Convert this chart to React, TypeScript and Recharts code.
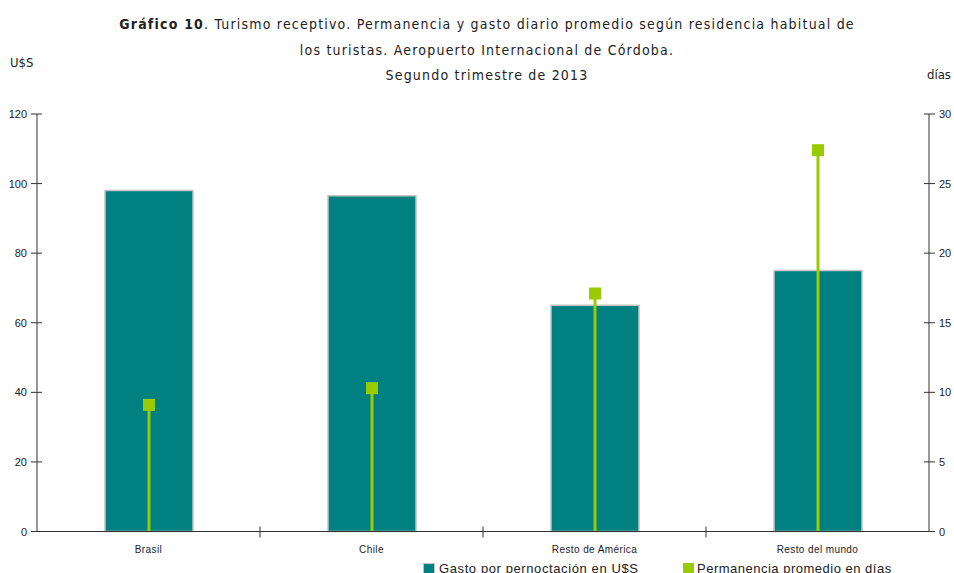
import React from 'react';
import { ComposedChart, Bar, XAxis, YAxis } from 'recharts';

const categories = ['Brasil', 'Chile', 'Resto de América', 'Resto del mundo'];
const gastoDiario = [98, 96.5, 65, 75];
const permanenciaDias = [9.1, 10.3, 17.1, 27.4];
const leftTicks = [0, 20, 40, 60, 80, 100, 120];
const rightTicks = [0, 5, 10, 15, 20, 25, 30];

const data = categories.map((name, i) => ({
  name,
  gasto: gastoDiario[i],
  dias: permanenciaDias[i],
}));

const W = 954;
const H = 573;
const PLOT_LEFT = 37;
const PLOT_RIGHT = 929;
const PLOT_TOP = 114;
const PLOT_BOTTOM = 531.5;
const HALF_BAND = (PLOT_RIGHT - PLOT_LEFT) / categories.length / 2;

const TEAL = '#008080';
const GREEN = '#99cc00';
const AXIS = '#333333';
const FONT = '"Liberation Sans", Arial, sans-serif';
const TITLE_FONT = '"DejaVu Sans Condensed", "DejaVu Sans", sans-serif';

const LeftTick = (props: any) => {
  const { y, payload } = props;
  return (
    <g>
      <line x1={PLOT_LEFT - 6} x2={PLOT_LEFT + 5} y1={y} y2={y} stroke={AXIS} strokeWidth={1} />
      <text x={PLOT_LEFT - 10} y={y} dy={4} textAnchor="end" fontSize={11} fill="#222" fontFamily={FONT}>
        {payload.value}
      </text>
    </g>
  );
};

const RightTick = (props: any) => {
  const { y, payload } = props;
  return (
    <g>
      <line x1={PLOT_RIGHT - 5} x2={PLOT_RIGHT + 6} y1={y} y2={y} stroke={AXIS} strokeWidth={1} />
      <text x={PLOT_RIGHT + 10} y={y} dy={4} textAnchor="start" fontSize={11} fill="#222" fontFamily={FONT}>
        {payload.value}
      </text>
    </g>
  );
};

const CatTick = (props: any) => {
  const { x, payload, index } = props;
  return (
    <g>
      {index < categories.length - 1 && (
        <line x1={x + HALF_BAND} x2={x + HALF_BAND} y1={PLOT_BOTTOM - 5} y2={PLOT_BOTTOM + 6} stroke={AXIS} />
      )}
      <text x={x} y={PLOT_BOTTOM + 21} textAnchor="middle" fontSize={10} fill="#222" fontFamily={FONT} letterSpacing={0.4}>
        {payload.value}
      </text>
    </g>
  );
};

// vertical drop line from the axis up to a square marker
const DropMarker = (props: any) => {
  const { x, y, width, height } = props;
  const cx = x + width / 2;
  return (
    <g>
      <rect x={cx - 1.5} y={y} width={3} height={height} fill={GREEN} />
      <rect x={cx - 6} y={y - 6} width={12} height={12} fill={GREEN} />
    </g>
  );
};

export default function App() {
  return (
    <div style={{ position: 'absolute', left: 0, top: 0, width: W, height: H, background: '#fff', fontFamily: FONT }}>
      <div style={{ position: 'absolute', left: 0, top: 12, width: 974, textAlign: 'center', fontSize: 14, lineHeight: '25.5px', color: '#222', fontFamily: TITLE_FONT, letterSpacing: 1.2 }}>
        <div><b>Gráfico 10</b>. Turismo receptivo. Permanencia y gasto diario promedio según residencia habitual de</div>
        <div>los turistas. Aeropuerto Internacional de Córdoba.</div>
        <div>Segundo trimestre de 2013</div>
      </div>
      <div style={{ position: 'absolute', left: 10, top: 55, fontSize: 13, color: '#222', fontFamily: TITLE_FONT }}>U$S</div>
      <div style={{ position: 'absolute', left: 927, top: 67, fontSize: 13, color: '#222', fontFamily: TITLE_FONT }}>días</div>

      <ComposedChart
        width={W}
        height={H}
        data={data}
        margin={{ top: PLOT_TOP, right: 0, bottom: H - PLOT_BOTTOM - 25, left: 0 }}
      >
        <XAxis dataKey="name" xAxisId="cat" height={25} tickLine={false} axisLine={{ stroke: AXIS }} tick={<CatTick />} interval={0} />
        <XAxis dataKey="name" xAxisId="drop" hide />
        <YAxis yAxisId="left" orientation="left" width={PLOT_LEFT} domain={[0, 120]} ticks={leftTicks} tickLine={false} axisLine={{ stroke: AXIS }} tick={<LeftTick />} />
        <YAxis yAxisId="right" orientation="right" width={W - PLOT_RIGHT} domain={[0, 30]} ticks={rightTicks} tickLine={false} axisLine={{ stroke: AXIS }} tick={<RightTick />} />
        <Bar dataKey="gasto" xAxisId="cat" yAxisId="left" fill={TEAL} stroke="#c4c4c4" strokeWidth={1.5} barSize={88} isAnimationActive={false} />
        <Bar dataKey="dias" xAxisId="drop" yAxisId="right" barSize={12} shape={<DropMarker />} isAnimationActive={false} />
      </ComposedChart>

      <div style={{ position: 'absolute', left: 423, top: 561, display: 'flex', alignItems: 'center', fontSize: 13, color: '#222', letterSpacing: 0.6 }}>
        <span style={{ display: 'inline-block', width: 10, height: 10, background: TEAL, border: '1px solid #c4c4c4', marginRight: 4 }} />
        Gasto por pernoctación en U$S
      </div>
      <div style={{ position: 'absolute', left: 683, top: 561, display: 'flex', alignItems: 'center', fontSize: 13, color: '#222', letterSpacing: 0.5 }}>
        <span style={{ display: 'inline-block', width: 11, height: 11, background: GREEN, marginRight: 3 }} />
        Permanencia promedio en días
      </div>
    </div>
  );
}
